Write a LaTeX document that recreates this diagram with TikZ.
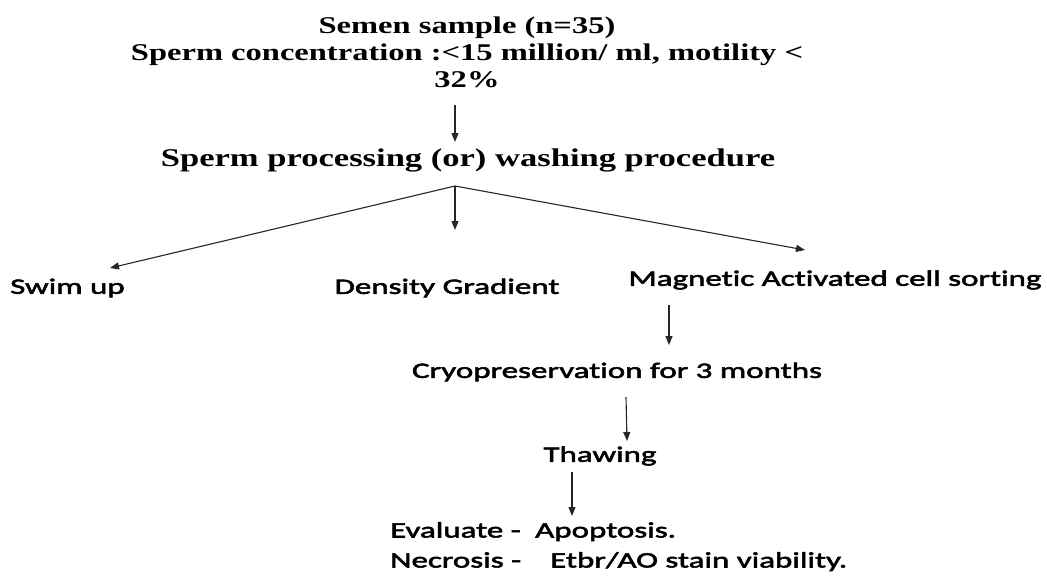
\documentclass[tikz,border=0pt]{standalone}
\usepackage{fontspec}
\usetikzlibrary{arrows.meta,calc}
\newfontfamily\tnrfont[FakeStretch=1.355]{Liberation Serif}
\newfontfamily\calfont[FakeStretch=1.5,FakeBold=2.5,Ligatures=NoCommon]{Carlito}
\begin{document}
\begin{tikzpicture}[x=1pt,y=-1pt,
  serifbold/.style={font=\tnrfont\bfseries\fontsize{24}{27}\selectfont, inner sep=0pt, align=center},
  calib/.style={font=\calfont\fontsize{22}{30}\selectfont, inner sep=0pt},
  arr/.style={draw=black!85, line width=1.1pt, -{Triangle[length=9pt,width=7pt]}},
]
\useasboundingbox (0,0) rectangle (1047,576);
\node[serifbold] (sample) at (467,52) {Semen sample (n=35)\\Sperm concentration :<15 million/ ml, motility <\\32\%};
\node[serifbold, font=\tnrfont\bfseries\fontsize{25.5}{30}\selectfont] (proc) at (468,160) {Sperm processing (or) washing procedure};
\node[calib, anchor=west] (swim) at (10,288) {Swim up};
\node[calib] (dens) at (447,288) {Density Gradient};
\node[calib] (macs) at (835,280) {Magnetic Activated cell sorting};
\node[calib] (cryo) at (617,372) {Cryopreservation for 3 months};
\node[calib] (thaw) at (600,456) {Thawing};
\node[calib, anchor=north west, align=left] (eval) at (390,522) {\makebox[145pt][l]{Evaluate -}Apoptosis.\\\makebox[160pt][l]{Necrosis -}Etbr/AO stain viability.};
% connector end points
\coordinate (a1s) at (455,105); \coordinate (a1e) at (455,142);
\coordinate (br) at (455,186);
\coordinate (swimtip) at (110,268);
\coordinate (denstip) at (455,230);
\coordinate (macstip) at (805,250);
\coordinate (a3s) at (669,305); \coordinate (a3e) at (669,345);
\coordinate (a4s) at (626,397); \coordinate (a4e) at (627,441);
\coordinate (a5s) at (572,472); \coordinate (a5e) at (572,516);
\draw[arr] (a1s) -- (a1e);
\draw[arr] (br) -- (swimtip);
\draw[arr] (br) -- (denstip);
\draw[arr] (br) -- (macstip);
\draw[arr] (a3s) -- (a3e);
\draw[arr] (a4s) -- (a4e);
\draw[arr] (a5s) -- (a5e);
\end{tikzpicture}
\end{document}
